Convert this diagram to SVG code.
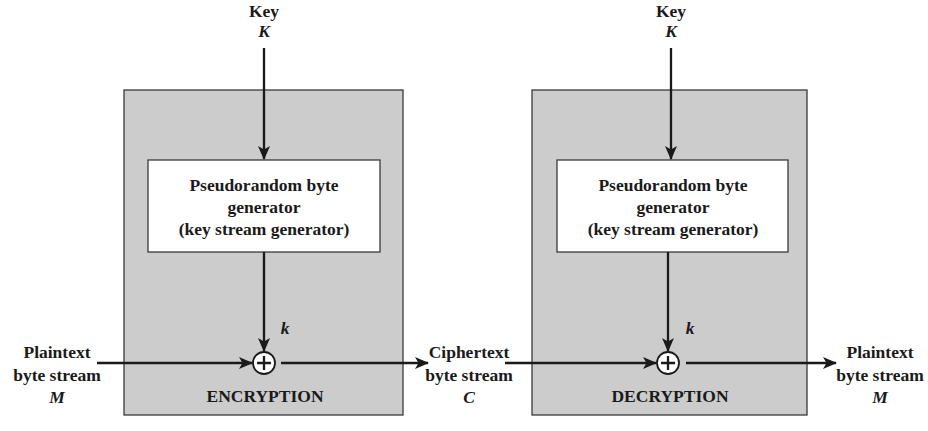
<svg xmlns="http://www.w3.org/2000/svg" width="928" height="431" viewBox="0 0 928 431">
<style>
.t{font-family:"Liberation Serif","Times New Roman",serif;font-weight:bold;font-size:17.5px;fill:#1a1a1a;text-anchor:middle}
.i{font-style:italic}
.outer{fill:#cccccc;stroke:#3a3a3a;stroke-width:1.3}
.gen{fill:#ffffff;stroke:#3a3a3a;stroke-width:1.3}
.ln{stroke:#1a1a1a;stroke-width:2.3;fill:none}
.xor{fill:#ffffff;stroke:#1a1a1a;stroke-width:1.8}
</style>
<defs>
<marker id="ah" markerWidth="14" markerHeight="12" refX="13" refY="6" orient="auto" markerUnits="userSpaceOnUse">
<path d="M0,0 L14,6 L0,12 L3.5,6 Z" fill="#1a1a1a"/>
</marker>
</defs>
<rect width="928" height="431" fill="#ffffff"/>
<g id="encryption">
<rect class="outer" x="124" y="90" width="279" height="325"/>
<text class="t" x="265" y="402">ENCRYPTION</text>
</g>
<g id="decryption">
<rect class="outer" x="532" y="90" width="275" height="325"/>
<text class="t" x="670" y="402">DECRYPTION</text>
</g>
<g id="gen-enc">
<rect class="gen" x="148" y="160" width="232" height="92"/>
<text class="t" x="264" y="191">Pseudorandom byte</text>
<text class="t" x="264" y="213">generator</text>
<text class="t" x="264" y="235">(key stream generator)</text>
</g>
<g id="gen-dec">
<rect class="gen" x="557" y="160" width="231" height="92"/>
<text class="t" x="673" y="191">Pseudorandom byte</text>
<text class="t" x="673" y="213">generator</text>
<text class="t" x="673" y="235">(key stream generator)</text>
</g>
<g id="key-enc">
<text class="t" x="264" y="17">Key</text>
<text class="t i" x="264" y="37">K</text>
</g>
<g id="key-dec">
<text class="t" x="671" y="17">Key</text>
<text class="t i" x="671" y="37">K</text>
</g>
<g id="xor-enc">
<circle class="xor" cx="264" cy="363" r="11"/>
<path class="ln" d="M257,363 H271 M264,356 V370" stroke-width="1.8"/>
</g>
<g id="xor-dec">
<circle class="xor" cx="668" cy="363" r="11"/>
<path class="ln" d="M661,363 H675 M668,356 V370" stroke-width="1.8"/>
</g>
<g id="plain-in">
<text class="t" x="57" y="358">Plaintext</text>
<text class="t" x="57" y="381">byte stream</text>
<text class="t i" x="57" y="403">M</text>
</g>
<g id="cipher">
<text class="t" x="469" y="358">Ciphertext</text>
<text class="t" x="469" y="381">byte stream</text>
<text class="t i" x="469" y="403">C</text>
</g>
<g id="plain-out">
<text class="t" x="880" y="358">Plaintext</text>
<text class="t" x="880" y="381">byte stream</text>
<text class="t i" x="880" y="403">M</text>
</g>
<g id="connectors">
<line class="ln" x1="264" y1="48" x2="264" y2="159" marker-end="url(#ah)"/>
<line class="ln" x1="671" y1="48" x2="671" y2="159" marker-end="url(#ah)"/>
<line class="ln" x1="264" y1="252" x2="264" y2="351" marker-end="url(#ah)"/>
<line class="ln" x1="668" y1="252" x2="668" y2="351" marker-end="url(#ah)"/>
<line class="ln" x1="97" y1="363" x2="252" y2="363" marker-end="url(#ah)"/>
<line class="ln" x1="281" y1="363" x2="428" y2="363" marker-end="url(#ah)"/>
<line class="ln" x1="505" y1="363" x2="656" y2="363" marker-end="url(#ah)"/>
<line class="ln" x1="686" y1="363" x2="836" y2="363" marker-end="url(#ah)"/>
<text class="t i" x="285" y="334">k</text>
<text class="t i" x="690" y="334">k</text>
</g>
</svg>
